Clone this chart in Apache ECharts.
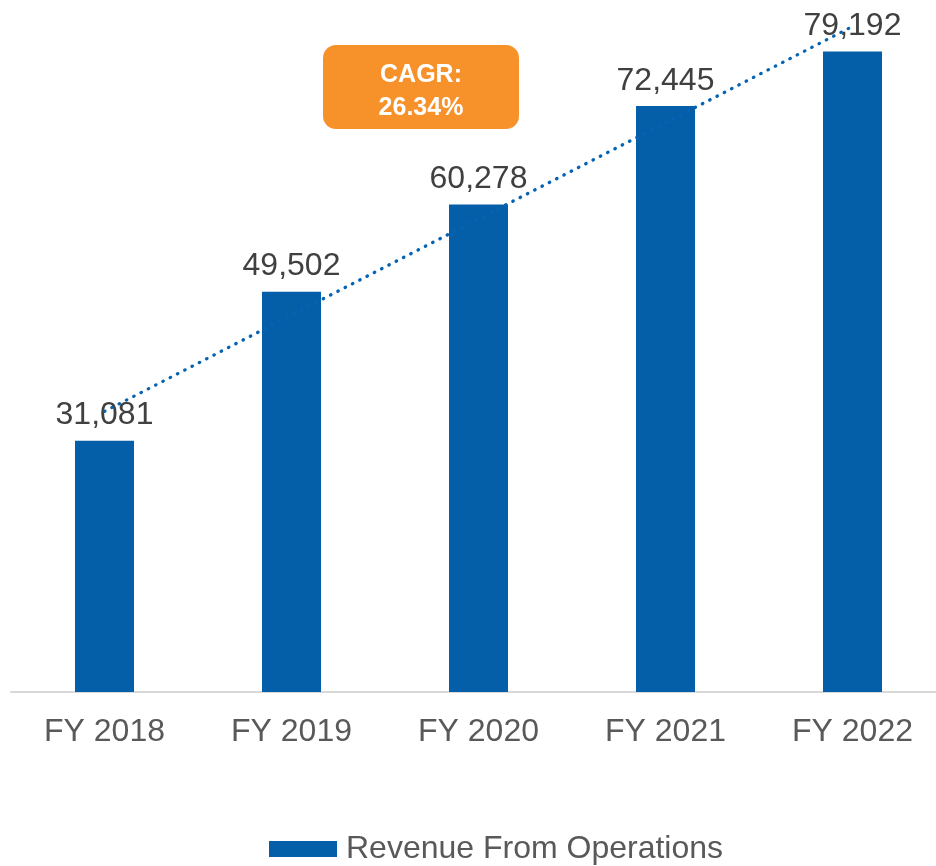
<!DOCTYPE html>
<html>
<head>
<meta charset="utf-8">
<script src="https://cdn.jsdelivr.net/npm/echarts@6/dist/echarts.min.js"></script>
<style>
  html, body { margin: 0; padding: 0; background: #fff; }
  #main { width: 936px; height: 866px; }
</style>
</head>
<body>
<div id="main"></div>
<script>
  // values
  var years = ["FY 2018", "FY 2019", "FY 2020", "FY 2021", "FY 2022"];
  var revenue = [31081, 49502, 60278, 72445, 79192];
  // dotted linear trendline, read at each category centre
  var trend = [34700, 46600, 58500, 70400, 82300];
  var cagrText = ["CAGR:", "26.34%"];

  var myChart = echarts.init(document.getElementById("main"));

  myChart.setOption({
    animation: false,
    textStyle: { fontFamily: "Liberation Sans, Arial, sans-serif" },
    grid: { left: 11, width: 935, top: 45, bottom: 174, outerBoundsMode: "none" },
    legend: {
      data: ["Revenue From Operations"],
      left: 269,
      top: 833,
      padding: 0,
      itemWidth: 68,
      itemHeight: 16,
      icon: "rect",
      textStyle: { fontSize: 32, color: "#595959", padding: [16, 0, 0, 4] }
    },
    xAxis: {
      type: "category",
      data: years,
      axisLine: { lineStyle: { color: "#d9d9d9", width: 2 } },
      axisTick: { show: false },
      axisLabel: { fontSize: 32, color: "#595959", margin: 24 }
    },
    yAxis: {
      type: "value",
      min: 0,
      max: 80000,
      show: false,
      splitLine: { show: false }
    },
    series: [
      {
        name: "Revenue From Operations",
        type: "bar",
        data: revenue,
        barWidth: 59,
        itemStyle: { color: "#055ea8" },
        label: {
          show: true,
          position: "top",
          distance: 9,
          fontSize: 32,
          color: "#404040",
          formatter: function (p) {
            return p.value.toLocaleString("en-US");
          }
        }
      },
      {
        name: "trend",
        type: "line",
        data: trend,
        showSymbol: false,
        silent: true,
        clip: false,
        z: 5,
        lineStyle: {
          color: "#0563b4",
          width: 3.3,
          type: [0.5, 7.7],
          cap: "round"
        }
      }
    ],
    graphic: [
      {
        type: "group",
        left: 323,
        top: 45,
        children: [
          {
            type: "rect",
            shape: { x: 0, y: 0, width: 196, height: 84, r: 13 },
            style: { fill: "#f7922a" }
          },
          {
            type: "text",
            x: 98,
            y: 47,
            style: {
              text: cagrText.join("\n"),
              fill: "#fff",
              font: "bold 25px Liberation Sans, Arial, sans-serif",
              lineHeight: 33,
              align: "center",
              verticalAlign: "middle"
            }
          }
        ]
      }
    ]
  });
</script>
</body>
</html>
